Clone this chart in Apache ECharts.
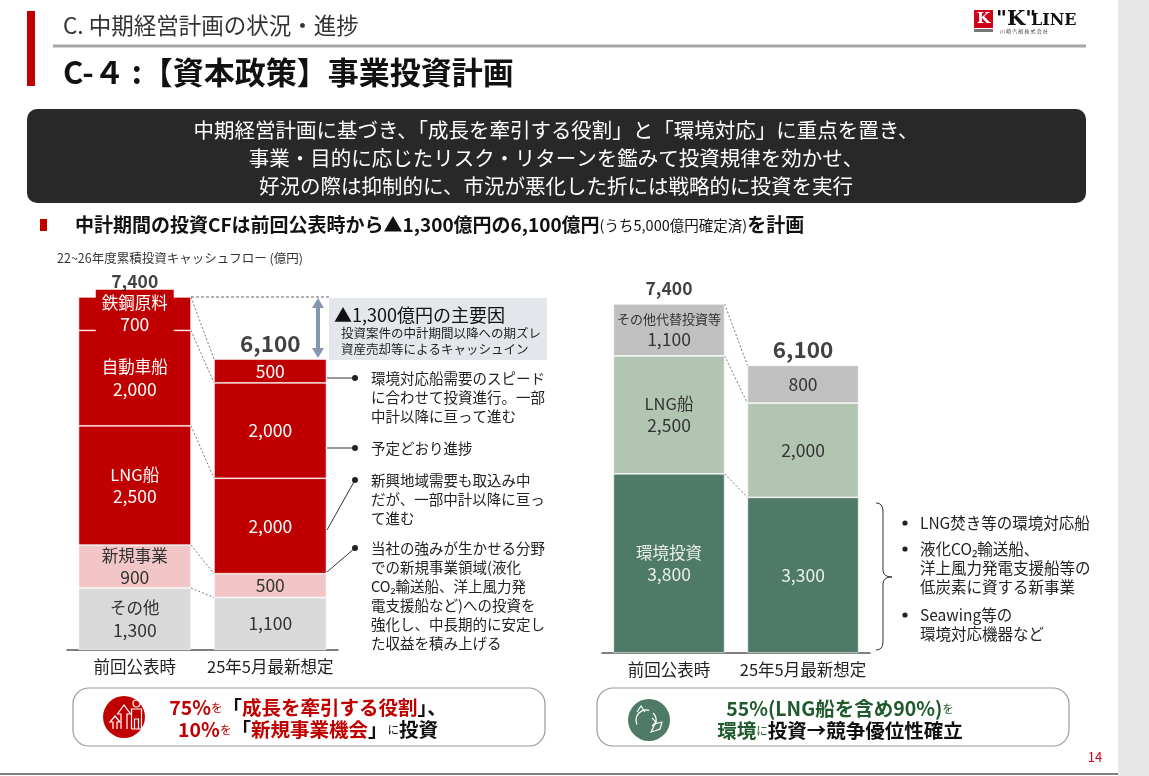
<!DOCTYPE html>
<html><head><meta charset="utf-8">
<script src="https://cdn.jsdelivr.net/npm/echarts@6/dist/echarts.min.js"></script>
<style>html,body{margin:0;padding:0;background:#fff;}#c{width:1149px;height:776px;}</style>
</head><body><div id="c"></div>
<script>
// ---------- DATA ----------
const categories = ['前回公表時', '25年5月最新想定'];
// left chart (bottom -> top)
const leftNames = ['その他', '新規事業', 'LNG船', '自動車船', '鉄鋼原料'];
const leftPrev = [1300, 900, 2500, 2000, 700];
const leftLatest = [1100, 500, 2000, 2000, 500];
// right chart (bottom -> top)
const rightNames = ['環境投資', 'LNG船', 'その他代替投資等'];
const rightPrev = [3800, 2500, 1100];
const rightLatest = [3300, 2000, 800];

// ---------- STYLE ----------
const fam = '"Noto Sans CJK JP","Noto Sans",sans-serif';
const RED = '#c00000';
const leftColors = ['#d9d9d9', '#f2c6c6', RED, RED, RED];
const leftLabelColors = ['#333', '#333', '#fff', '#fff', '#fff'];
const rightColors = ['#4f7a67', '#b2c5b3', '#c0c0c0'];
const rightLabelColors = ['#e9efe9', '#333', '#333'];
const BAR_RATIO = 0.83;
const NUM_SIZE = 17.5;

const fmt = v => v.toLocaleString('en-US');
const sum = a => a.reduce((s, v) => s + v, 0);
const cum = a => { let s = 0; return a.map(v => (s += v)); };

const chart = echarts.init(document.getElementById('c'), null, { renderer: 'canvas' });

const series = [];
function addStack(names, prev, latest, colors, labelColors, gi, stackName) {
  names.forEach((n, i) => {
    const nameSize = (n === 'その他代替投資等') ? 13 : 16.5;
    const d0 = {
      value: prev[i],
      label: {
        formatter: '{n|' + n + '}\n{v|' + fmt(prev[i]) + '}',
        rich: {
          n: { fontSize: nameSize, color: labelColors[i], fontFamily: fam, lineHeight: nameSize === 13 ? 18 : 22 },
          v: { fontSize: NUM_SIZE, color: labelColors[i], fontFamily: fam, lineHeight: 22 }
        }
      }
    };
    if (n === '鉄鋼原料') {
      d0.label.backgroundColor = RED;
      d0.label.padding = [2, 6, 2, 6];
    }
    series.push({
      type: 'bar', name: n, stack: stackName,
      xAxisIndex: gi, yAxisIndex: gi,
      barWidth: (BAR_RATIO * 100) + '%',
      data: [d0, { value: latest[i] }],
      itemStyle: { color: colors[i], borderColor: 'rgba(255,255,255,0.85)', borderWidth: 0.7 },
      label: {
        show: true, position: 'inside', color: labelColors[i],
        fontFamily: fam, fontSize: NUM_SIZE, lineHeight: 22,
        formatter: p => fmt(p.value)
      },
      emphasis: { disabled: true },
      z: 2
    });
  });
  // totals
  const tp = sum(prev), tl = sum(latest);
  series.push({
    type: 'scatter', xAxisIndex: gi, yAxisIndex: gi, symbolSize: 1,
    itemStyle: { color: 'transparent' },
    data: [
      { value: [0, tp], label: { fontSize: 17.5, distance: 6 } },
      { value: [1, tl], label: { fontSize: 22.5, distance: 4 } }
    ],
    label: {
      show: true, position: 'top', color: '#111', fontWeight: 'bold', fontFamily: fam,
      formatter: p => fmt(p.value[1])
    },
    silent: true, z: 5
  });
  // connectors
  const cp = cum(prev), cl = cum(latest);
  series.push({
    type: 'custom', xAxisIndex: gi, yAxisIndex: gi, silent: true, z: 1,
    data: cp.map((v, i) => [0, v, cl[i]]),
    encode: { x: 0, y: [1, 2] },
    renderItem: (params, api) => {
      const p1 = api.coord([0, api.value(1)]);
      const p2 = api.coord([1, api.value(2)]);
      const half = api.size([1, 0])[0] * BAR_RATIO / 2;
      return {
        type: 'line',
        shape: { x1: p1[0] + half, y1: p1[1], x2: p2[0] - half, y2: p2[1] },
        style: { stroke: '#555', lineWidth: 0.8, lineDash: [2, 2] }
      };
    }
  });
}
addStack(leftNames, leftPrev, leftLatest, leftColors, leftLabelColors, 0, 'L');
addStack(rightNames, rightPrev, rightLatest, rightColors, rightLabelColors, 1, 'R');

// ---------- GRAPHIC HELPERS ----------
function T(x, y, text, size, color, weight, align, va, extra) {
  return {
    type: 'text', x, y, silent: true, z: 10,
    style: Object.assign({
      text, fill: color || '#222',
      font: (weight || 'normal') + ' ' + size + 'px ' + fam,
      textAlign: align || 'left', align: align || 'left',
      textVerticalAlign: va || 'middle', verticalAlign: va || 'middle'
    }, extra || {})
  };
}
function L(x1, y1, x2, y2, stroke, w, dash) {
  return { type: 'line', silent: true, z: 10, shape: { x1, y1, x2, y2 },
    style: { stroke, lineWidth: w || 1, lineDash: dash || null } };
}
function R(x, y, w, h, fill, r, stroke, lw) {
  return { type: 'rect', silent: true, z: 0, shape: { x, y, width: w, height: h, r: r || 0 },
    style: { fill, stroke: stroke || null, lineWidth: lw || 0 } };
}
function C(cx, cy, r, fill, stroke, lw) {
  return { type: 'circle', silent: true, z: 10, shape: { cx, cy, r },
    style: { fill, stroke: stroke || null, lineWidth: lw || 0 } };
}
function PL(points, stroke, lw) {
  return { type: 'polyline', silent: true, z: 11, shape: { points },
    style: { stroke, lineWidth: lw || 1.2, fill: null } };
}
function BZ(x1, y1, cx, cy, x2, y2, stroke, lw) {
  return { type: 'bezierCurve', silent: true, z: 10,
    shape: { x1, y1, x2, y2, cpx1: cx, cpy1: cy },
    style: { stroke, lineWidth: lw || 1, fill: null } };
}

const g = [];
// right gray panel
g.push(R(1118, 0, 31, 776, '#e7e7e7'));
// header
g.push(R(27, 11, 8, 75, RED));
g.push(T(63, 25, 'C. 中期経営計画の状況・進捗', 22.5, '#333'));
g.push(L(53, 46, 1086, 46, '#a6a6a6', 3));
g.push(T(63, 72, 'C-４ :【資本政策】事業投資計画', 31, '#111', 'bold'));
// logo
g.push(R(974, 10, 19, 18, '#d0021b'));
g.push(T(983.5, 19.5, 'K', 15, '#fff', 'bold', 'center', 'middle', { font: 'bold 15px "DejaVu Serif",serif' }));
g.push(R(974, 29, 19, 3, '#777'));
g.push(T(996, 20, '"K"', 22, '#111', 'bold', 'left', 'middle', { font: 'bold 21px "DejaVu Serif",serif' }));
g.push(T(1031, 21, 'LINE', 16, '#111', 'bold', 'left', 'middle', { font: 'bold 16px "DejaVu Serif",serif' }));
g.push(T(1000, 31.5, '川 崎 汽 船 株 式 会 社', 5, '#444'));
// dark message box
g.push(R(27, 109, 1059, 94, '#282828', 10));
g.push(T(556, 130, '中期経営計画に基づき、「成長を牽引する役割」と「環境対応」に重点を置き、', 20.5, '#fff', 'normal', 'center'));
g.push(T(556, 158, '事業・目的に応じたリスク・リターンを鑑みて投資規律を効かせ、', 20.5, '#fff', 'normal', 'center'));
g.push(T(556, 186, '好況の際は抑制的に、市況が悪化した折には戦略的に投資を実行', 20.5, '#fff', 'normal', 'center'));
// bullet headline
g.push(R(40, 219, 7, 12, RED));
g.push({
  type: 'text', x: 75, y: 225, silent: true, z: 10,
  style: {
    text: '{b|中計期間の投資CFは前回公表時から▲1,300億円の6,100億円}{s|(うち5,000億円確定済)}{b|を計画}',
    textAlign: 'left', align: 'left', textVerticalAlign: 'middle', verticalAlign: 'middle',
    rich: {
      b: { fill: '#111', fontSize: 19, fontWeight: 'bold', fontFamily: fam },
      s: { fill: '#111', fontSize: 14.5, fontFamily: fam }
    }
  }
});
g.push(T(57, 258, '22~26年度累積投資キャッシュフロー (億円)', 12.5, '#333'));

// left chart: dotted line, arrow and gray box
g.push(L(191, 297, 329, 297, '#666', 1, [3, 2]));
g.push(R(329, 298, 218, 62, '#e3e6ea'));
g.push(L(318, 306, 318, 349, '#8497b0', 4));
g.push({ type: 'polygon', silent: true, z: 10, shape: { points: [[318, 298], [312, 308], [324, 308]] }, style: { fill: '#8497b0' } });
g.push({ type: 'polygon', silent: true, z: 10, shape: { points: [[318, 358], [312, 348], [324, 348]] }, style: { fill: '#8497b0' } });
g.push(T(334, 315, '▲1,300億円の主要因', 18, '#111'));
g.push(T(341, 333, '投資案件の中計期間以降への期ズレ', 12.5, '#222'));
g.push(T(341, 349, '資産売却等によるキャッシュイン', 12.5, '#222'));

// left annotations
const annL = [
  { from: [327, 378], dot: [355, 378], lines: ['環境対応船需要のスピード', 'に合わせて投資進行。一部', '中計以降に亘って進む'] },
  { from: [327, 448], dot: [355, 448], lines: ['予定どおり進捗'] },
  { from: [327, 530], dot: [355, 480], lines: ['新興地域需要も取込み中', 'だが、一部中計以降に亘っ', 'て進む'] },
  { from: [327, 572], dot: [355, 548], lines: ['当社の強みが生かせる分野', 'での新規事業領域(液化', 'CO₂輸送船、洋上風力発', '電支援船など)への投資を', '強化し、中長期的に安定し', 'た収益を積み上げる'] }
];
annL.forEach(a => {
  g.push(L(a.from[0], a.from[1], a.dot[0], a.dot[1], '#333', 1));
  g.push(C(a.dot[0], a.dot[1], 3, '#222'));
  a.lines.forEach((t, i) => g.push(T(371, a.dot[1] + i * 19, t, 14.5, '#222')));
});

// right chart brace
const bx = 876, by1 = 503, by2 = 650, bm = 577;
g.push(BZ(bx, by1, bx + 7, by1, bx + 7, by1 + 8, '#333', 1));
g.push(L(bx + 7, by1 + 8, bx + 7, bm - 7, '#333', 1));
g.push(BZ(bx + 7, bm - 7, bx + 7, bm, bx + 16, bm, '#333', 1));
g.push(BZ(bx + 16, bm, bx + 7, bm, bx + 7, bm + 7, '#333', 1));
g.push(L(bx + 7, bm + 7, bx + 7, by2 - 8, '#333', 1));
g.push(BZ(bx + 7, by2 - 8, bx + 7, by2, bx, by2, '#333', 1));
// right bullets
const bulR = [
  { y: 523, lines: ['LNG焚き等の環境対応船'] },
  { y: 549, lines: ['液化CO₂輸送船、', '洋上風力発電支援船等の', '低炭素に資する新事業'] },
  { y: 615, lines: ['Seawing等の', '環境対応機器など'] }
];
bulR.forEach(b => {
  g.push(C(905, b.y, 2.6, '#222'));
  b.lines.forEach((t, i) => g.push(T(920, b.y + i * 19, t, 15.5, '#222')));
});

// bottom boxes
g.push(R(73, 688, 472, 58, '#fff', 16, '#9a9a9a', 1.2));
g.push(R(597, 688, 472, 58, '#fff', 16, '#9a9a9a', 1.2));
// left icon
g.push(C(124, 717, 21, RED));
g.push(PL([[113, 729], [113, 722], [110, 722], [115, 716], [120, 722], [117, 722], [117, 729]], '#fff', 1.2));
g.push(PL([[121, 729], [121, 714], [117.5, 714], [124, 705], [130.5, 714], [127, 714], [127, 729]], '#fff', 1.2));
g.push(C(136.5, 703.5, 3.5, null, '#fff', 1.2));
g.push(PL([[131.5, 729], [131.5, 709], [141.5, 709], [141.5, 729], [131.5, 729]], '#fff', 1.2));
g.push(PL([[134.5, 729], [134.5, 719], [138.5, 719], [138.5, 729]], '#fff', 1.2));
// right icon
g.push(C(649, 720, 21, '#4f7a67'));
g.push({ type: 'arc', silent: true, z: 11, shape: { cx: 646, cy: 720, r: 10, startAngle: Math.PI * 0.85, endAngle: Math.PI * 1.6 }, style: { stroke: '#fff', lineWidth: 1.3, fill: null } });
g.push({ type: 'arc', silent: true, z: 11, shape: { cx: 646, cy: 720, r: 10, startAngle: Math.PI * 1.75, endAngle: Math.PI * 0.15 }, style: { stroke: '#fff', lineWidth: 1.3, fill: null } });
g.push(PL([[637, 712], [641, 706], [645, 712]], '#fff', 1.2));
g.push(PL([[652, 718], [656, 722], [652, 726]], '#fff', 1.2));
g.push({ type: 'polygon', silent: true, z: 11, shape: { points: [[651, 732], [655, 724], [662, 722], [660, 729]] }, style: { stroke: '#fff', lineWidth: 1.2, fill: null } });

g.push({
  type: 'text', x: 308, y: 697, silent: true, z: 12,
  style: {
    text: '{r|75%}{rs|を}{d|「}{r|成長を牽引する役割}{d|」、}\n{r|10%}{rs|を}{d|「}{r|新規事業機会}{d|」}{ds|に}{d|投資}',
    textAlign: 'center', align: 'center', textVerticalAlign: 'top', verticalAlign: 'top',
    rich: {
      r: { fill: RED, fontSize: 19.5, fontWeight: 'bold', fontFamily: fam, lineHeight: 22 },
      rs: { fill: RED, fontSize: 11.5, fontFamily: fam, lineHeight: 22 },
      d: { fill: '#111', fontSize: 19.5, fontWeight: 'bold', fontFamily: fam, lineHeight: 22 },
      ds: { fill: '#111', fontSize: 11.5, fontFamily: fam, lineHeight: 22 }
    }
  }
});
g.push({
  type: 'text', x: 840, y: 698, silent: true, z: 12,
  style: {
    text: '{g|55%(LNG船を含め90%)}{gs|を}\n{g|環境}{gs|に}{d|投資→競争優位性確立}',
    textAlign: 'center', align: 'center', textVerticalAlign: 'top', verticalAlign: 'top',
    rich: {
      g: { fill: '#1e5a2c', fontSize: 19.5, fontWeight: 'bold', fontFamily: fam, lineHeight: 22 },
      gs: { fill: '#1e5a2c', fontSize: 11.5, fontFamily: fam, lineHeight: 22 },
      d: { fill: '#111', fontSize: 19.5, fontWeight: 'bold', fontFamily: fam, lineHeight: 22 }
    }
  }
});
// page number & bottom line
g.push(T(1095, 757, '14', 13, '#d0021b', 'normal', 'center'));
g.push(L(0, 774, 1118, 774, '#808080', 2));

// ---------- OPTION ----------
const axisCommon = {
  type: 'category', data: categories,
  axisTick: { show: false },
  axisLine: { lineStyle: { color: '#555', width: 1.5 } },
  axisLabel: { color: '#222', fontSize: 16.5, fontFamily: fam, margin: 8, interval: 0 }
};
const yCommon = { type: 'value', min: 0, max: 8000, show: false, splitLine: { show: false } };

chart.setOption({
  animation: false,
  backgroundColor: '#fff',
  grid: [
    { left: 67, top: 268.4, width: 271, height: 381.6, containLabel: false, outerBoundsMode: 'none' },
    { left: 602, top: 275.7, width: 268, height: 377.3, containLabel: false, outerBoundsMode: 'none' }
  ],
  xAxis: [Object.assign({ gridIndex: 0 }, axisCommon), Object.assign({ gridIndex: 1 }, axisCommon)],
  yAxis: [Object.assign({ gridIndex: 0 }, yCommon), Object.assign({ gridIndex: 1 }, yCommon)],
  series,
  graphic: { elements: g }
});
</script></body></html>
